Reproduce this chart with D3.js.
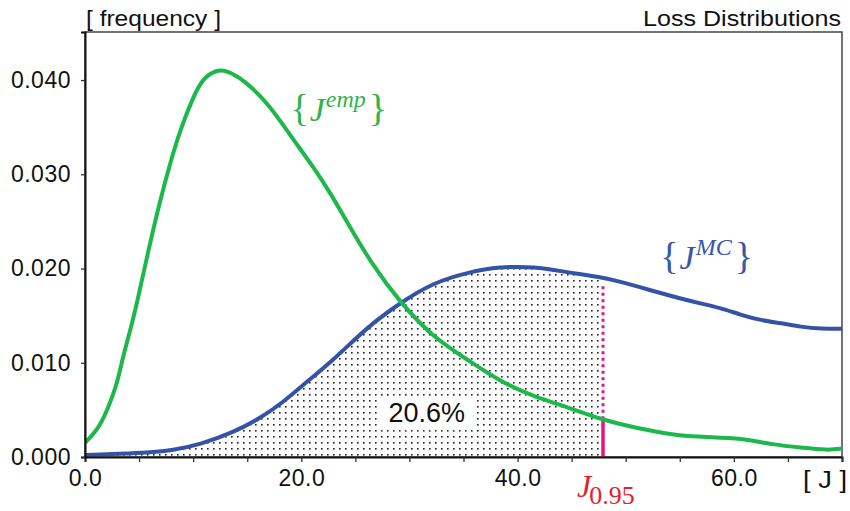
<!DOCTYPE html>
<html lang="en">
<head>
    <meta charset="UTF-8">
    <title>Loss Distributions</title>
    <script src="https://d3js.org/d3.v7.min.js"></script>
    <style>
        body { margin: 0; background: #fff; }
        .axis text { font-family: "Liberation Sans", Arial, sans-serif; font-size: 23px; letter-spacing: 0.5px; fill: #111; }
        .axis line { stroke: #333; stroke-width: 1.3; }
        .axis path { stroke: #111; stroke-width: 2; }
        .serif { font-family: "Liberation Serif", "Times New Roman", serif; }
    </style>
</head>
<body>
    <svg id="chart" width="850" height="511"></svg>

    <script>
        // empirical distribution {J^emp}
        const empX = [0, 1.4, 2.3, 3.0, 3.5, 4.2, 4.8, 5.4, 6.2, 6.9, 7.9, 8.8, 10.0, 10.9, 12.2, 13.1, 14.6, 16.9, 19.0, 21.1, 22.7, 24.5, 26.4, 29.2, 32.2, 35.4, 38.4, 41.5, 44.6, 47.7, 50.5, 54.4, 57.6, 60.6, 63.7, 66.2, 68.7, 70];
        const empY = [0.0015, 0.0032, 0.0057, 0.0079, 0.0106, 0.0135, 0.0163, 0.0195, 0.0236, 0.0270, 0.0313, 0.0347, 0.0382, 0.0402, 0.0411, 0.0410, 0.0401, 0.0376, 0.0341, 0.0308, 0.0280, 0.0244, 0.0207, 0.0163, 0.0127, 0.0103, 0.0080, 0.0064, 0.0053, 0.0040, 0.0032, 0.0023, 0.0021, 0.0020, 0.0013, 0.0010, 0.0007, 0.0009];

        // Monte Carlo distribution {J^MC}
        const mcX = [0, 5.1, 8.1, 10.6, 13.7, 16.2, 18.3, 19.9, 23.0, 26.1, 29.2, 32.2, 35.4, 38.4, 41.5, 44.6, 47.7, 49.5, 51.4, 53.2, 55.1, 56.9, 58.8, 60.6, 62.5, 64.4, 66.2, 68.1, 70];
        const mcY = [0.0002, 0.0004, 0.0007, 0.0013, 0.0026, 0.0041, 0.0058, 0.0074, 0.0103, 0.0138, 0.0164, 0.0185, 0.0196, 0.0202, 0.0202, 0.0196, 0.0191, 0.0186, 0.0180, 0.0174, 0.0168, 0.0163, 0.0158, 0.0151, 0.0145, 0.0142, 0.0138, 0.0136, 0.0136];

        // quantile marker
        const jQuant = 47.9;
        const jQuantEmp = 0.0040;  // where the solid part stops (green curve)
        const jQuantMC = 0.0185;   // top of the dotted part (blue curve)
        const shareText = "20.6%";

        const xTicks = [0, 5, 10, 15, 20, 25, 30, 35, 40, 45, 50, 55, 60, 65, 70];
        const xLabels = [0, 20, 40, 60];
        const yTicks = [0, 0.01, 0.02, 0.03, 0.04];

        const svg = d3.select("#chart");
        const margin = {top: 32, right: 8, bottom: 54, left: 85},
            width = +svg.attr("width") - margin.left - margin.right,
            height = +svg.attr("height") - margin.top - margin.bottom;

        const x = d3.scaleLinear().domain([0, 70]).range([0, width]);
        const y = d3.scaleLinear().domain([0, 0.0451]).range([height, 0]);

        const emp = empX.map((d, i) => [d, empY[i]]);
        const mc = mcX.map((d, i) => [d, mcY[i]]);

        const defs = svg.append("defs");
        const pat = defs.append("pattern")
            .attr("id", "dots")
            .attr("patternUnits", "userSpaceOnUse")
            .attr("width", 6).attr("height", 6);
        pat.append("rect").attr("x", 2).attr("y", 2).attr("width", 1.6).attr("height", 1.6).attr("fill", "#222");

        defs.append("clipPath").attr("id", "quantClip")
            .append("rect")
            .attr("x", 0).attr("y", 0)
            .attr("width", x(jQuant)).attr("height", height);

        const g = svg.append("g")
            .attr("transform", `translate(${margin.left},${margin.top})`);

        const curve = d3.curveBasis;

        // shaded area under MC curve up to the quantile
        g.append("path")
            .datum(mc)
            .attr("clip-path", "url(#quantClip)")
            .attr("fill", "url(#dots)")
            .attr("d", d3.area().curve(curve)
                .x(d => x(d[0])).y0(height).y1(d => y(d[1])));

        // percentage label with white box
        const share = g.append("g");
        const shareT = share.append("text")
            .attr("x", x(31.6)).attr("y", y(0.0037))
            .attr("text-anchor", "middle")
            .style("font-family", "'Liberation Sans', Arial, sans-serif")
            .style("font-size", "27px")
            .attr("fill", "#111")
            .text(shareText);
        const bb = shareT.node().getBBox();
        share.insert("rect", "text")
            .attr("x", bb.x - 10).attr("y", bb.y - 1)
            .attr("width", bb.width + 22).attr("height", bb.height + 3)
            .attr("fill", "#fff");

        // frame
        g.append("rect")
            .attr("width", width).attr("height", height)
            .attr("fill", "none").attr("stroke", "#444").attr("stroke-width", 1.5);

        // quantile line
        g.append("line")
            .attr("x1", x(jQuant)).attr("x2", x(jQuant))
            .attr("y1", y(0)).attr("y2", y(jQuantEmp))
            .attr("stroke", "#e8157f").attr("stroke-width", 3.5);
        g.append("line")
            .attr("x1", x(jQuant)).attr("x2", x(jQuant))
            .attr("y1", y(jQuantEmp)).attr("y2", y(jQuantMC))
            .attr("stroke", "#e8157f").attr("stroke-width", 3)
            .attr("stroke-dasharray", "3,3.5");

        const line = d3.line().curve(curve).x(d => x(d[0])).y(d => y(d[1]));

        g.append("path").datum(mc)
            .attr("fill", "none").attr("stroke", "#3452a8").attr("stroke-width", 4)
            .attr("d", line);
        g.append("path").datum(emp)
            .attr("fill", "none").attr("stroke", "#1cb84b").attr("stroke-width", 4)
            .attr("d", line);

        // axes
        g.append("g")
            .attr("class", "axis")
            .attr("transform", `translate(0,${height})`)
            .call(d3.axisBottom(x).tickValues(xTicks).tickSize(5).tickPadding(8)
                .tickFormat(d => xLabels.includes(d) ? d.toFixed(1) : ""));

        g.append("g")
            .attr("class", "axis")
            .call(d3.axisLeft(y).tickValues(yTicks).tickSize(4).tickPadding(10)
                .tickFormat(d3.format(".3f")));

        // titles
        svg.append("text")
            .attr("x", 86).attr("y", 26)
            .attr("textLength", 135).attr("lengthAdjust", "spacingAndGlyphs")
            .style("font-family", "'Liberation Sans', Arial, sans-serif")
            .style("font-size", "22px").attr("fill", "#111")
            .text("[ frequency ]");
        svg.append("text")
            .attr("x", 643).attr("y", 26)
            .attr("textLength", 198).attr("lengthAdjust", "spacingAndGlyphs")
            .style("font-family", "'Liberation Sans', Arial, sans-serif")
            .style("font-size", "22px").attr("fill", "#111")
            .text("Loss Distributions");
        svg.append("text")
            .attr("x", 803).attr("y", 488)
            .attr("textLength", 44).attr("lengthAdjust", "spacingAndGlyphs")
            .style("font-family", "'Liberation Sans', Arial, sans-serif")
            .style("font-size", "23px").attr("fill", "#111")
            .text("[ J ]");

        // series labels
        function setLabel(xv, yv, sup, color) {
            const t = g.append("text").attr("class", "serif")
                .attr("x", x(xv)).attr("y", y(yv))
                .attr("fill", color).style("font-size", "34px");
            t.append("tspan").style("font-size", "38px").text("{");
            t.append("tspan").attr("dx", 1).style("font-style", "italic").text("J");
            t.append("tspan").attr("dx", 1).attr("dy", -14)
                .style("font-style", "italic").style("font-size", "24px").text(sup);
            t.append("tspan").attr("dx", 3).attr("dy", 14).style("font-size", "38px").text("}");
        }
        setLabel(19.0, 0.0357, "emp", "#2fb34a");
        setLabel(53.2, 0.0200, "MC", "#3a56a8");

        // quantile label below the axis
        const q = svg.append("text").attr("class", "serif")
            .attr("x", 577).attr("y", 497)
            .attr("fill", "#e8202a").style("font-size", "32px");
        q.append("tspan").style("font-style", "italic").text("J");
        q.append("tspan").attr("dx", -2).attr("dy", 7).style("font-size", "26px").text("0.95");
    </script>
</body>
</html>
